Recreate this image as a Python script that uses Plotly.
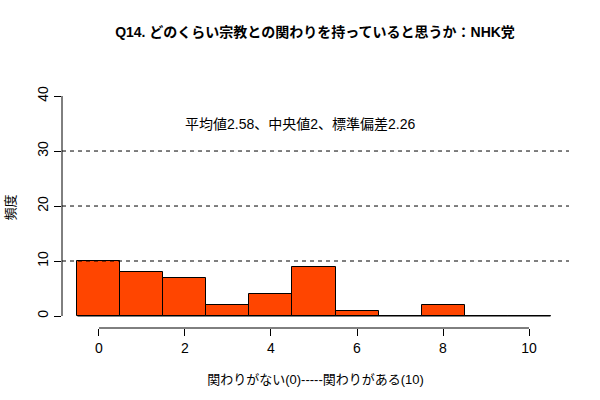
import plotly.graph_objects as go

# Data
scores = [0, 1, 2, 3, 4, 5, 6, 7, 8, 9, 10]
counts = [10, 8, 7, 2, 4, 9, 1, 0, 2, 0, 0]
x_ticks = [0, 2, 4, 6, 8, 10]
y_ticks = [0, 10, 20, 30, 40]
ref_lines = [10, 20, 30]
title = "Q14. どのくらい宗教との関わりを持っていると思うか：NHK党"
stats_text = "平均値2.58、中央値2、標準偏差2.26"
x_title = "関わりがない(0)-----関わりがある(10)"
y_title = "頻度"

W, H = 600, 400
xr = [-0.86, 10.93]
yr = [-2.18, 41.64]
ml, mr, mt, mb = 62, 31, 87, 72

def xp(v):
    return (v - xr[0]) / (xr[1] - xr[0])

def yp(v):
    return (v - yr[0]) / (yr[1] - yr[0])

FONT = "Liberation Sans, Arial, Noto Sans CJK JP, sans-serif"
CJK = "Liberation Sans, Noto Sans CJK JP, sans-serif"

fig = go.Figure()
fig.add_trace(go.Bar(
    x=scores, y=counts, width=1,
    marker=dict(color="#FF4500", line=dict(color="black", width=1)),
    hoverinfo="skip",
))

shapes = []
for v in ref_lines:
    shapes.append(dict(type="line", xref="paper", yref="y", x0=0, x1=1, y0=v, y1=v,
                       line=dict(color="black", width=1, dash="4px,4px")))
# axis lines (R style, spanning tick range only)
shapes.append(dict(type="line", xref="paper", yref="paper", x0=0, x1=0,
                   y0=yp(y_ticks[0]), y1=yp(y_ticks[-1]), line=dict(color="black", width=1)))
shapes.append(dict(type="line", xref="paper", yref="paper", y0=0, y1=0,
                   x0=xp(x_ticks[0]), x1=xp(x_ticks[-1]), line=dict(color="black", width=1)))
# baseline for zero-height bins
shapes.append(dict(type="line", xref="paper", yref="paper", y0=yp(0), y1=yp(0),
                   x0=xp(scores[0] - 0.5), x1=xp(scores[-1] + 0.5), line=dict(color="black", width=1)))

fig.update_layout(
    width=W, height=H,
    margin=dict(l=ml, r=mr, t=mt, b=mb),
    paper_bgcolor="white", plot_bgcolor="white",
    showlegend=False,
    bargap=0,
    shapes=shapes,
    title=dict(text="<b>" + title + "</b>", x=0.525, xanchor="center", y=0.92, yanchor="middle",
               font=dict(family=CJK, size=14, color="black")),
    xaxis=dict(range=xr, tickvals=x_ticks, ticks="outside", ticklen=7, tickcolor="black",
               showgrid=False, zeroline=False, showline=False, automargin=False,
               tickfont=dict(family=FONT, size=14, color="black"),
               title=dict(text=x_title, font=dict(family=CJK, size=13, color="black"), standoff=20)),
    yaxis=dict(range=yr, tickvals=y_ticks, ticks="outside", ticklen=7, tickcolor="black",
               tickangle=-90, showgrid=False, zeroline=False, showline=False, automargin=False,
               tickfont=dict(family=FONT, size=14, color="black"),
               title=dict(text=y_title, font=dict(family=CJK, size=13, color="black"), standoff=16)),
    annotations=[dict(text=stats_text, x=4.67, y=35, xref="x", yref="y", showarrow=False,
                      font=dict(family=CJK, size=14, color="black"))],
)

fig.write_html("out.html")
